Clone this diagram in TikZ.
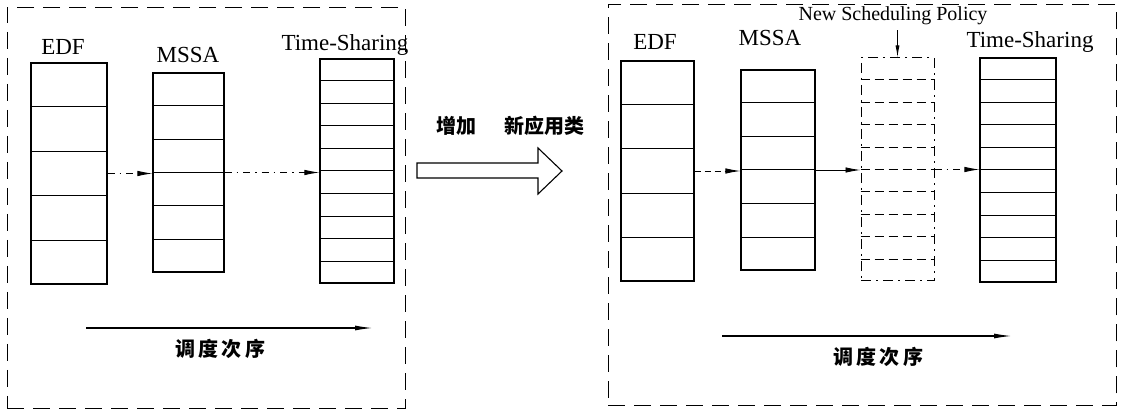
\documentclass[tikz,border=0pt]{standalone}
\usepackage{fontspec}
\setmainfont{Liberation Serif}
\newfontfamily\cjk{Noto Sans CJK SC}
\usetikzlibrary{arrows.meta,calc}
\newcommand{\stackcells}[2]{%
  \foreach \k in {1,...,\numexpr#2-1\relax}
    \draw[cellline] ($(#1.north west)!\k/#2!(#1.south west)$) -- ($(#1.north east)!\k/#2!(#1.south east)$);}
\newcommand{\stackcellsdashed}[2]{%
  \foreach \k in {1,...,\numexpr#2-1\relax}
    \draw[cellline,dash pattern=on 9pt off 5pt] ($(#1.north west)!\k/#2!(#1.south west)$) -- ($(#1.north east)!\k/#2!(#1.south east)$);}
\begin{document}
\begin{tikzpicture}[x=1pt,y=-1pt,
  frame/.style={draw,line width=0.9pt,dash pattern=on 17pt off 9pt},
  stackbox/.style={draw,line width=1.1pt,rectangle,inner sep=0pt},
  newbox/.style={draw,line width=1.0pt,rectangle,inner sep=0pt,dash pattern=on 10pt off 5pt on 2pt off 5pt},
  cellline/.style={line width=1.0pt},
  lab/.style={font=\fontsize{23}{26}\selectfont,inner sep=0pt},
  smalllab/.style={font=\fontsize{20}{23}\selectfont,inner sep=0pt},
  cjklab/.style={font=\cjk\bfseries\fontsize{20}{24}\selectfont,inner sep=0pt},
  tip/.style={-{Latex[length=15pt,width=5.5pt]}},
  dashdot/.style={line width=0.9pt,dash pattern=on 7pt off 5pt on 1.5pt off 5pt},
  orderarrow/.style={line width=1.3pt,-{Latex[length=18pt,width=5pt]}}
]
\useasboundingbox (0,0) rectangle (1125,411);
\fill[white] (0,0) rectangle (1125,411);

% ---------- left frame ----------
\node[frame,rectangle,inner sep=0pt,minimum width=398pt,minimum height=401pt] (frameL) at (206,207.5) {};

\node[stackbox,minimum width=76pt,minimum height=221pt] (edfL) at (69,173.5) {};
\stackcells{edfL}{5}
\node[stackbox,minimum width=71pt,minimum height=199pt] (mssaL) at (188.5,172.5) {};
\stackcells{mssaL}{6}
\node[stackbox,minimum width=74pt,minimum height=224pt] (tsL) at (357,171) {};
\stackcells{tsL}{10}

\node[lab] (edfLlab) at (63,47) {EDF};
\node[lab] (mssaLlab) at (188,55) {MSSA};
\node[lab] (tsLlab) at (345,45) {Time-Sharing};

\draw[dashdot,tip] (edfL.east) -- (mssaL.west |- edfL.east);
\draw[dashdot,tip] (mssaL.east) -- (tsL.west |- mssaL.east);

\coordinate (ordL1) at (86,328);
\coordinate (ordL2) at (373,328);
\draw[orderarrow] (ordL1) -- (ordL2);
\node[cjklab] (ordLlab) at (220,349) {调\,度\,次\,序};

% ---------- middle ----------
\node[cjklab] (addlab) at (510,126) {增加\hspace{28pt}新应用类};
\coordinate (ba1) at (417,163);
\coordinate (ba2) at (538,163);
\coordinate (ba3) at (538,148);
\coordinate (ba4) at (562,171);
\coordinate (ba5) at (538,194);
\coordinate (ba6) at (538,178);
\coordinate (ba7) at (417,178);
\draw[line width=1.1pt,line join=miter] (ba1) -- (ba2) -- (ba3) -- (ba4) -- (ba5) -- (ba6) -- (ba7) -- cycle;

% ---------- right frame ----------
\node[frame,rectangle,inner sep=0pt,minimum width=508pt,minimum height=401pt] (frameR) at (862,205) {};

\node[stackbox,minimum width=73pt,minimum height=220pt] (edfR) at (657.5,171) {};
\stackcells{edfR}{5}
\node[stackbox,minimum width=74pt,minimum height=200pt] (mssaR) at (778,170) {};
\stackcells{mssaR}{6}
\node[newbox,minimum width=73pt,minimum height=223pt] (newR) at (897.5,169.5) {};
\stackcellsdashed{newR}{10}
\node[stackbox,minimum width=76pt,minimum height=224pt] (tsR) at (1018,170) {};
\stackcells{tsR}{10}

\node[lab] (edfRlab) at (655,42) {EDF};
\node[lab] (mssaRlab) at (770,38) {MSSA};
\node[lab] (tsRlab) at (1030,42) {Time-Sharing};
\node[smalllab] (newRlab) at (893,16) {New Scheduling Policy};
\draw[line width=0.9pt,-{Latex[length=12pt,width=4pt]}] (newRlab.south -| newR.north) ++(0,5) -- (newR.north);

\draw[line width=0.9pt,dash pattern=on 6pt off 4pt,tip] (edfR.east) -- (mssaR.west |- edfR.east);
\draw[line width=0.9pt,tip] (mssaR.east) -- (newR.west |- mssaR.east);
\draw[dashdot,tip] (newR.east) -- (tsR.west |- newR.east);

\coordinate (ordR1) at (722,336);
\coordinate (ordR2) at (1012,336);
\draw[orderarrow] (ordR1) -- (ordR2);
\node[cjklab] (ordRlab) at (878,357) {调\,度\,次\,序};
\end{tikzpicture}
\end{document}
